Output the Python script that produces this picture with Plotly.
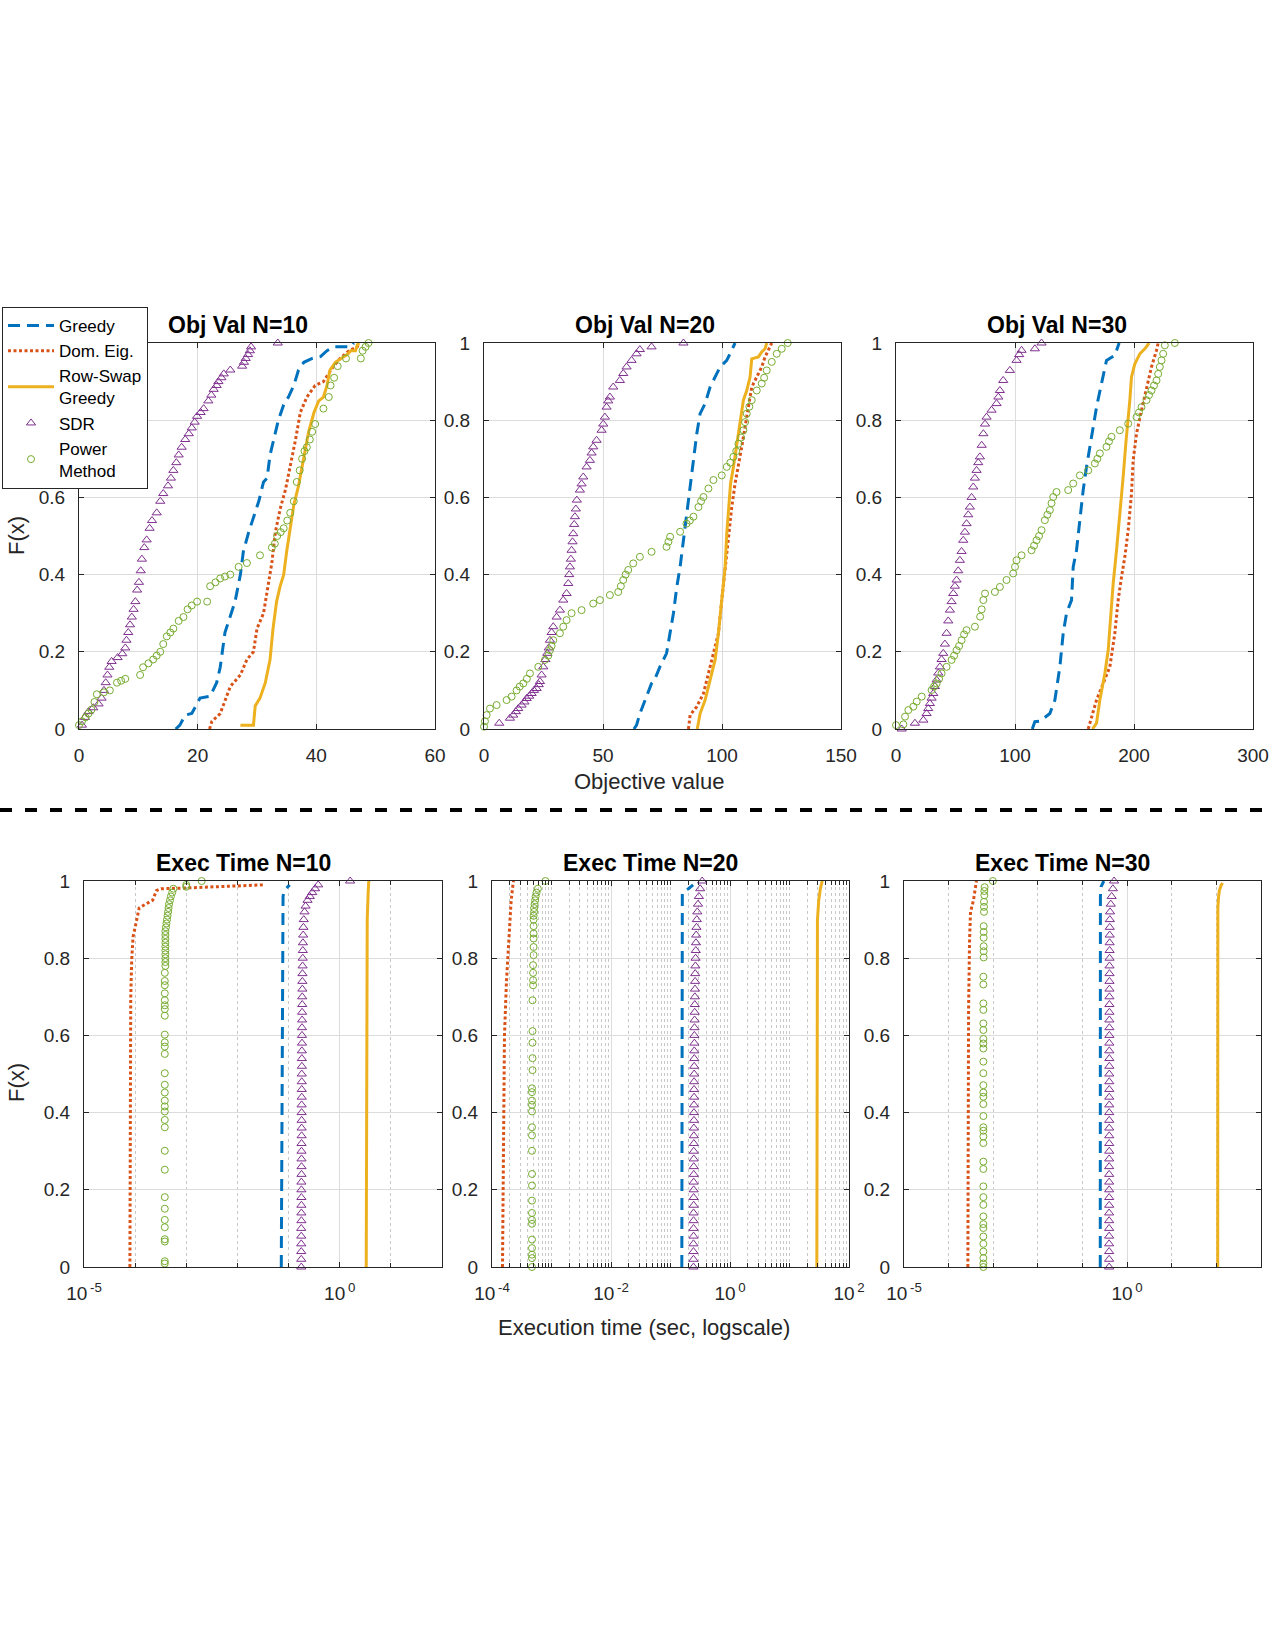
import plotly.graph_objects as go

W, H = 1275, 1650
BLUE = '#0072BD'; RED = '#D95319'; YEL = '#EDB120'; PUR = '#7E2F8E'; GRN = '#77AC30'
FONT = 'Liberation Sans, Arial, Helvetica, sans-serif'
TXT = '#262626'

SERIES_NAMES = ['Greedy', 'Dom. Eig.', 'Row-Swap<br>Greedy', 'SDR', 'Power<br>Method']
TITLES = ['Obj Val N=10', 'Obj Val N=20', 'Obj Val N=30', 'Exec Time N=10', 'Exec Time N=20', 'Exec Time N=30']

# ---------------- Objective value, N=10 : (x, F) ----------------
ov10_greedy = [(16.3,0),(17.0,0.01),(17.9,0.036),(19.0,0.04),(20.4,0.08),(22.1,0.085),(23.2,0.12),(23.8,0.16),(24.6,0.25),(25.5,0.29),(26.3,0.33),(27.2,0.40),(27.7,0.46),(28.6,0.51),(29.4,0.55),(30.3,0.59),(31.1,0.64),(31.7,0.65),(32.2,0.71),(33.1,0.77),(33.6,0.80),(34.5,0.84),(35.3,0.86),(36.2,0.89),(37.0,0.93),(37.9,0.95),(39.3,0.96),(40.7,0.965),(41.8,0.98),(42.9,0.99),(45.8,0.99),(46.3,1.0)]
ov10_domeig = [(22.0,0),(22.4,0.02),(23.8,0.04),(25.5,0.11),(27.2,0.14),(28.3,0.18),(29.4,0.20),(30.0,0.26),(31.1,0.30),(31.9,0.38),(32.5,0.43),(33.1,0.51),(33.9,0.57),(34.8,0.62),(35.6,0.68),(36.5,0.75),(37.3,0.82),(38.4,0.86),(39.8,0.89),(41.2,0.90),(42.9,0.94),(44.0,0.96),(45.5,0.98),(46.9,0.99),(47.2,1.0)]
ov10_rowswap = [(27.2,0.01),(29.4,0.01),(29.7,0.06),(30.5,0.08),(31.4,0.12),(32.2,0.18),(32.7,0.26),(33.3,0.33),(33.9,0.37),(34.5,0.40),(35.0,0.46),(35.6,0.52),(36.2,0.58),(37.0,0.63),(37.9,0.70),(38.7,0.77),(39.6,0.82),(40.4,0.85),(41.2,0.86),(41.8,0.89),(42.3,0.93),(43.2,0.95),(45.2,0.97),(45.8,0.98),(46.6,0.98),(46.9,0.995),(47.2,1.0)]
ov10_sdr = [(0.5,0.01),(1.0,0.03),(1.6,0.045),(2.4,0.055),(3.3,0.065),(3.8,0.08),(4.2,0.10),(4.5,0.12),(4.8,0.14),(5.1,0.16),(5.5,0.175),(6.5,0.185),(7.3,0.195),(7.8,0.21),(8.0,0.23),(8.3,0.25),(8.6,0.27),(8.9,0.29),(9.2,0.31),(9.5,0.33),(9.8,0.36),(10.1,0.38),(10.4,0.41),(10.6,0.44),(11.0,0.47),(11.4,0.49),(11.9,0.52),(12.3,0.54),(13.1,0.56),(13.7,0.59),(14.2,0.61),(15.0,0.63),(15.5,0.65),(15.9,0.67),(16.4,0.69),(16.8,0.71),(17.3,0.73),(17.9,0.75),(18.5,0.765),(19.0,0.78),(19.5,0.795),(19.9,0.81),(20.5,0.82),(21.0,0.83),(21.8,0.85),(22.3,0.865),(22.7,0.88),(23.2,0.89),(23.5,0.90),(24.0,0.91),(24.4,0.92),(25.5,0.93),(27.5,0.94),(27.8,0.95),(28.1,0.96),(28.5,0.97),(28.8,0.98),(29.0,0.99),(33.5,1.0)]
ov10_power = [(0.0,0.01),(0.5,0.02),(1.1,0.03),(1.6,0.04),(2.1,0.05),(2.6,0.07),(3.0,0.09),(4.2,0.095),(5.2,0.10),(6.4,0.12),(7.1,0.125),(7.8,0.13),(10.3,0.14),(10.8,0.16),(11.7,0.17),(12.5,0.18),(13.1,0.19),(13.7,0.20),(14.2,0.22),(14.8,0.24),(15.4,0.25),(15.9,0.26),(16.8,0.28),(17.6,0.29),(18.3,0.31),(19.0,0.32),(19.9,0.33),(21.6,0.33),(22.1,0.37),(23.0,0.38),(23.8,0.39),(24.6,0.395),(25.5,0.40),(26.9,0.42),(28.3,0.43),(30.5,0.45),(32.5,0.47),(33.0,0.48),(33.4,0.50),(34.0,0.51),(34.5,0.52),(35.1,0.54),(35.6,0.56),(36.2,0.59),(36.7,0.64),(37.2,0.67),(37.6,0.70),(38.0,0.72),(38.4,0.73),(38.9,0.75),(39.3,0.77),(39.8,0.79),(41.2,0.83),(42.1,0.86),(42.4,0.89),(43.0,0.91),(43.6,0.94),(45.0,0.96),(47.5,0.96),(47.8,0.98),(48.3,0.99),(48.8,1.0)]

# ---------------- Objective value, N=20 ----------------
ov20_greedy = [(63.0,0),(64.1,0.01),(65.5,0.04),(67.6,0.075),(70.4,0.118),(71.5,0.125),(73.9,0.161),(76.7,0.196),(78.2,0.248),(79.6,0.30),(81.0,0.368),(82.4,0.42),(83.8,0.489),(85.1,0.558),(86.6,0.627),(88.0,0.696),(89.4,0.765),(90.8,0.817),(92.9,0.843),(95.0,0.886),(97.1,0.912),(99.2,0.938),(102.0,0.955),(103.4,0.972),(105.5,1.0)]
ov20_domeig = [(85.9,0),(86.6,0.036),(89.4,0.058),(92.2,0.092),(94.3,0.144),(96.4,0.196),(98.5,0.248),(99.9,0.334),(101.3,0.42),(102.7,0.506),(104.1,0.575),(105.5,0.636),(106.9,0.679),(108.3,0.731),(109.7,0.783),(111.1,0.834),(112.5,0.886),(114.6,0.912),(116.7,0.938),(118.1,0.964),(120.2,0.99),(120.9,1.0)]
ov20_rowswap = [(89.6,0),(90.8,0.04),(92.9,0.075),(95.0,0.127),(97.1,0.179),(98.5,0.248),(99.9,0.334),(101.3,0.42),(102.0,0.506),(102.7,0.575),(103.6,0.636),(104.8,0.679),(106.2,0.739),(107.6,0.80),(109.0,0.852),(110.4,0.877),(111.8,0.912),(112.5,0.959),(115.3,0.964),(116.7,0.977),(118.1,0.985),(118.8,1.0)]
ov20_sdr = [(6.4,0.015),(10.9,0.028),(12.3,0.036),(13.4,0.045),(14.4,0.053),(15.8,0.062),(17.0,0.07),(17.9,0.079),(19.0,0.085),(20.0,0.092),(21.0,0.10),(22.1,0.105),(23.0,0.115),(23.5,0.123),(24.2,0.14),(24.9,0.161),(25.8,0.18),(26.6,0.196),(27.2,0.21),(27.7,0.23),(28.4,0.25),(29.1,0.265),(30.5,0.29),(31.9,0.308),(33.3,0.334),(34.7,0.351),(35.4,0.377),(35.8,0.40),(36.1,0.42),(36.5,0.44),(36.8,0.463),(37.2,0.485),(37.5,0.506),(37.9,0.53),(38.2,0.55),(38.6,0.57),(39.0,0.593),(40.3,0.619),(41.0,0.635),(41.7,0.653),(43.1,0.679),(44.5,0.696),(45.2,0.715),(45.9,0.731),(47.3,0.748),(49.4,0.774),(50.1,0.79),(50.8,0.808),(51.5,0.834),(52.2,0.85),(52.9,0.86),(54.3,0.886),(57.1,0.903),(58.5,0.921),(59.9,0.938),(62.0,0.955),(64.1,0.972),(65.5,0.983),(70.4,0.99),(83.8,1.0)]
ov20_power = [(0.0,0.006),(0.4,0.02),(1.1,0.036),(2.5,0.053),(5.3,0.062),(9.5,0.075),(11.6,0.084),(13.7,0.10),(15.0,0.11),(16.5,0.118),(18.0,0.13),(19.3,0.144),(22.8,0.161),(25.6,0.179),(27.0,0.19),(27.7,0.204),(28.4,0.215),(29.1,0.23),(31.9,0.248),(33.3,0.265),(34.7,0.282),(36.8,0.30),(41.0,0.308),(45.9,0.325),(48.7,0.334),(52.9,0.347),(56.4,0.355),(57.5,0.37),(58.5,0.386),(59.5,0.40),(60.6,0.412),(62.7,0.429),(65.5,0.446),(70.4,0.459),(76.7,0.472),(77.5,0.485),(78.2,0.498),(82.4,0.511),(85.1,0.532),(86.5,0.54),(88.0,0.55),(90.1,0.575),(91.2,0.59),(92.2,0.601),(94.3,0.623),(96.4,0.645),(99.9,0.657),(102.0,0.679),(103.5,0.69),(104.8,0.705),(106.0,0.72),(106.9,0.739),(108.0,0.755),(109.0,0.774),(109.7,0.795),(110.4,0.817),(111.5,0.835),(112.5,0.852),(114.6,0.877),(116.7,0.895),(117.7,0.91),(118.8,0.929),(120.9,0.951),(123.0,0.972),(125.1,0.985),(127.6,1.0)]

# ---------------- Objective value, N=30 ----------------
ov30_greedy = [(114.5,0),(116.7,0.019),(120.9,0.02),(129.3,0.04),(133.5,0.075),(137.7,0.161),(140.5,0.248),(143.3,0.30),(147.5,0.334),(148.9,0.42),(151.7,0.463),(154.5,0.55),(157.3,0.619),(160.1,0.679),(162.9,0.731),(165.7,0.783),(168.5,0.834),(172.7,0.895),(176.9,0.955),(183.9,0.968),(187.5,1.0)]
ov30_domeig = [(161.5,0),(168.5,0.075),(174.1,0.118),(179.7,0.161),(183.9,0.248),(186.7,0.334),(189.5,0.394),(192.3,0.446),(195.1,0.515),(197.9,0.61),(199.3,0.696),(202.1,0.765),(206.3,0.826),(210.5,0.886),(214.7,0.938),(218.9,0.981),(220.3,1.0)]
ov30_rowswap = [(165.1,0),(168.5,0.015),(171.3,0.075),(175.5,0.144),(178.3,0.204),(180.2,0.291),(182.5,0.377),(185.3,0.463),(188.1,0.55),(190.9,0.653),(193.1,0.739),(195.1,0.80),(196.5,0.852),(197.9,0.912),(200.7,0.946),(204.9,0.972),(209.1,0.985),(212.7,1.0)]
ov30_sdr = [(4.8,0.0),(15.9,0.015),(23.0,0.023),(25.7,0.04),(27.1,0.053),(28.5,0.066),(29.9,0.08),(31.3,0.092),(32.7,0.11),(34.1,0.127),(35.5,0.145),(36.9,0.161),(38.3,0.18),(39.7,0.196),(41.1,0.22),(42.5,0.248),(43.9,0.28),(45.3,0.308),(46.7,0.33),(48.1,0.351),(49.5,0.37),(50.9,0.386),(52.3,0.41),(53.7,0.437),(55.1,0.46),(56.5,0.489),(57.9,0.51),(59.3,0.532),(60.7,0.555),(62.1,0.575),(63.5,0.60),(64.9,0.627),(66.3,0.65),(67.7,0.67),(69.1,0.69),(70.5,0.705),(72.0,0.735),(73.4,0.765),(74.8,0.79),(76.1,0.808),(80.3,0.826),(84.5,0.843),(86.0,0.86),(87.3,0.877),(90.1,0.903),(95.7,0.929),(101.3,0.955),(103.5,0.97),(105.5,0.981),(116.7,0.985),(122.3,1.0)]
ov30_power = [(0.0,0.01),(6.2,0.012),(7.6,0.032),(10.4,0.049),(14.6,0.058),(17.4,0.071),(21.6,0.084),(29.9,0.101),(32.0,0.11),(34.1,0.118),(36.2,0.13),(38.3,0.144),(42.5,0.161),(46.7,0.179),(48.8,0.19),(50.9,0.204),(53.0,0.215),(55.1,0.23),(57.2,0.245),(59.3,0.256),(66.3,0.265),(70.7,0.291),(72.0,0.31),(73.4,0.334),(74.8,0.351),(83.1,0.355),(87.3,0.368),(92.9,0.386),(98.5,0.403),(100.0,0.42),(101.3,0.437),(105.5,0.45),(113.9,0.463),(116.0,0.475),(118.1,0.489),(120.2,0.50),(122.3,0.515),(125.1,0.541),(127.2,0.555),(129.3,0.567),(130.7,0.585),(132.1,0.601),(134.9,0.614),(144.7,0.619),(148.9,0.636),(154.5,0.657),(161.5,0.67),(167.1,0.688),(169.2,0.70),(171.3,0.714),(176.9,0.731),(179.0,0.745),(181.1,0.757),(188.1,0.774),(195.1,0.791),(202.1,0.808),(204.2,0.82),(206.3,0.834),(210.5,0.852),(212.6,0.865),(214.7,0.877),(216.8,0.89),(218.9,0.903),(220.3,0.92),(221.7,0.938),(223.1,0.955),(224.5,0.972),(225.9,0.994),(234.3,1.0)]

# ---------------- Execution time (sec), N=10 ----------------
et10_greedy = [(0.072,0),(0.074,0.5),(0.078,0.96),(0.082,0.975),(0.105,0.99)]
et10_domeig = [(7.9e-5,0),(8.0e-5,0.4),(8.2e-5,0.7),(8.6e-5,0.8),(9.1e-5,0.855),(1.0e-4,0.88),(1.2e-4,0.93),(1.6e-4,0.94),(2.2e-4,0.95),(2.6e-4,0.975),(3.2e-4,0.98),(1.0e-3,0.982),(3.2e-2,0.99)]
et10_rowswap = [(3.3,0),(3.35,0.5),(3.45,0.9),(3.6,0.97),(3.7,1.0)]
et10_sdr = [(0.177,0.00),(0.177,0.02),(0.177,0.04),(0.177,0.06),(0.177,0.08),(0.177,0.10),(0.178,0.12),(0.178,0.14),(0.178,0.16),(0.178,0.18),(0.178,0.20),(0.178,0.22),(0.179,0.24),(0.179,0.26),(0.179,0.28),(0.179,0.30),(0.179,0.32),(0.180,0.34),(0.180,0.36),(0.180,0.38),(0.180,0.40),(0.180,0.42),(0.181,0.44),(0.181,0.46),(0.181,0.48),(0.181,0.50),(0.182,0.52),(0.182,0.54),(0.182,0.56),(0.183,0.58),(0.183,0.60),(0.183,0.62),(0.184,0.64),(0.184,0.66),(0.185,0.68),(0.185,0.70),(0.186,0.72),(0.186,0.74),(0.187,0.76),(0.188,0.78),(0.189,0.80),(0.190,0.82),(0.191,0.84),(0.193,0.86),(0.195,0.88),(0.198,0.90),(0.205,0.92),(0.215,0.935),(0.235,0.95),(0.26,0.96),(0.29,0.97),(0.33,0.98),(0.38,0.99),(1.6,1.0)]
et10_power = [(3.8e-4,0.009),(3.8e-4,0.015),(3.8e-4,0.066),(3.8e-4,0.072),(3.8e-4,0.103),(3.8e-4,0.122),(3.8e-4,0.151),(3.8e-4,0.181),(3.8e-4,0.252),(3.8e-4,0.301),(3.8e-4,0.362),(3.8e-4,0.381),(3.8e-4,0.403),(3.8e-4,0.416),(3.8e-4,0.431),(3.8e-4,0.452),(3.8e-4,0.472),(3.8e-4,0.502),(3.8e-4,0.552),(3.8e-4,0.571),(3.8e-4,0.582),(3.8e-4,0.602),(3.8e-4,0.651),(3.8e-4,0.668),(3.8e-4,0.678),(3.8e-4,0.691),(3.8e-4,0.709),(3.8e-4,0.730),(3.8e-4,0.741),(3.8e-4,0.762),(3.9e-4,0.78),(3.9e-4,0.79),(3.9e-4,0.80),(3.9e-4,0.81),(3.9e-4,0.82),(3.9e-4,0.83),(3.9e-4,0.84),(3.9e-4,0.85),(3.9e-4,0.86),(3.9e-4,0.87),(4.0e-4,0.88),(4.1e-4,0.89),(4.2e-4,0.90),(4.3e-4,0.91),(4.4e-4,0.92),(4.5e-4,0.93),(4.6e-4,0.94),(4.8e-4,0.95),(5.0e-4,0.96),(5.3e-4,0.97),(5.6e-4,0.98),(1.0e-3,0.985),(1.0e-3,0.99),(2.0e-3,1.0)]

# ---------------- Execution time (sec), N=20 ----------------
et20_greedy = [(0.155,0),(0.156,0.5),(0.158,0.97),(0.175,0.975),(0.2,0.98),(0.24,0.99)]
et20_domeig = [(1.5e-4,0),(1.55e-4,0.2),(1.58e-4,0.4),(1.62e-4,0.6),(1.75e-4,0.74),(1.95e-4,0.85),(2.1e-4,0.95),(2.25e-4,0.99),(2.3e-4,1.0)]
et20_rowswap = [(28.8,0),(29.0,0.5),(29.5,0.9),(31.0,0.95),(33.0,0.98),(35.5,1.0)]
et20_sdr = [(0.243,0.00),(0.243,0.02),(0.243,0.04),(0.243,0.06),(0.244,0.08),(0.244,0.10),(0.244,0.12),(0.244,0.14),(0.245,0.16),(0.245,0.18),(0.245,0.20),(0.245,0.22),(0.246,0.24),(0.246,0.26),(0.246,0.28),(0.246,0.30),(0.247,0.32),(0.247,0.34),(0.247,0.36),(0.248,0.38),(0.248,0.40),(0.248,0.42),(0.249,0.44),(0.249,0.46),(0.249,0.48),(0.250,0.50),(0.250,0.52),(0.251,0.54),(0.251,0.56),(0.252,0.58),(0.252,0.60),(0.253,0.62),(0.254,0.64),(0.255,0.66),(0.256,0.68),(0.257,0.70),(0.258,0.72),(0.259,0.74),(0.260,0.76),(0.262,0.78),(0.264,0.80),(0.266,0.82),(0.268,0.84),(0.270,0.86),(0.273,0.88),(0.277,0.90),(0.282,0.92),(0.29,0.94),(0.30,0.96),(0.315,0.98),(0.34,1.0)]
et20_power = [(4.7e-4,0.0),(4.7e-4,0.023),(4.7e-4,0.032),(4.7e-4,0.049),(4.7e-4,0.071),(4.7e-4,0.112),(4.7e-4,0.122),(4.7e-4,0.140),(4.7e-4,0.172),(4.7e-4,0.211),(4.7e-4,0.241),(4.7e-4,0.301),(4.7e-4,0.341),(4.7e-4,0.362),(4.7e-4,0.403),(4.7e-4,0.420),(4.7e-4,0.431),(4.7e-4,0.453),(4.7e-4,0.463),(4.8e-4,0.510),(4.8e-4,0.541),(4.8e-4,0.581),(4.8e-4,0.611),(4.8e-4,0.691),(4.9e-4,0.730),(4.9e-4,0.743),(4.9e-4,0.762),(4.9e-4,0.782),(5.0e-4,0.808),(5.0e-4,0.829),(5.0e-4,0.851),(5.0e-4,0.864),(5.0e-4,0.883),(5.0e-4,0.90),(5.0e-4,0.91),(5.1e-4,0.92),(5.1e-4,0.93),(5.2e-4,0.94),(5.3e-4,0.95),(5.4e-4,0.96),(5.6e-4,0.97),(5.9e-4,0.98),(7.9e-4,1.0)]

# ---------------- Execution time (sec), N=30 ----------------
et30_greedy = [(0.25,0),(0.25,0.5),(0.252,0.96),(0.26,0.985),(0.30,1.0)]
et30_domeig = [(2.7e-4,0),(2.7e-4,0.42),(2.8e-4,0.67),(2.95e-4,0.85),(3.1e-4,0.92),(3.6e-4,0.95),(4.2e-4,1.0)]
et30_rowswap = [(107,0),(107,0.5),(108,0.93),(112,0.96),(117,0.976),(128,0.989),(138,0.995)]
et30_sdr = [(0.395,0.00),(0.395,0.02),(0.395,0.04),(0.395,0.06),(0.395,0.08),(0.395,0.10),(0.395,0.12),(0.395,0.14),(0.396,0.16),(0.396,0.18),(0.396,0.20),(0.396,0.22),(0.396,0.24),(0.396,0.26),(0.396,0.28),(0.397,0.30),(0.397,0.32),(0.397,0.34),(0.397,0.36),(0.397,0.38),(0.397,0.40),(0.398,0.42),(0.398,0.44),(0.398,0.46),(0.398,0.48),(0.398,0.50),(0.399,0.52),(0.399,0.54),(0.399,0.56),(0.399,0.58),(0.400,0.60),(0.400,0.62),(0.400,0.64),(0.401,0.66),(0.401,0.68),(0.401,0.70),(0.402,0.72),(0.402,0.74),(0.403,0.76),(0.403,0.78),(0.404,0.80),(0.405,0.82),(0.406,0.84),(0.407,0.86),(0.408,0.88),(0.410,0.90),(0.415,0.92),(0.43,0.94),(0.45,0.96),(0.48,0.98),(0.51,1.0)]
et30_power = [(6.0e-4,0.0),(6.0e-4,0.009),(6.0e-4,0.023),(6.0e-4,0.040),(6.0e-4,0.060),(6.0e-4,0.079),(6.0e-4,0.101),(6.0e-4,0.111),(6.0e-4,0.131),(6.0e-4,0.161),(6.0e-4,0.181),(6.0e-4,0.209),(6.0e-4,0.254),(6.0e-4,0.273),(6.0e-4,0.321),(6.0e-4,0.338),(6.0e-4,0.353),(6.0e-4,0.362),(6.0e-4,0.391),(6.0e-4,0.422),(6.0e-4,0.441),(6.0e-4,0.452),(6.0e-4,0.471),(6.0e-4,0.502),(6.0e-4,0.532),(6.0e-4,0.566),(6.0e-4,0.579),(6.0e-4,0.591),(6.0e-4,0.614),(6.0e-4,0.631),(6.0e-4,0.666),(6.0e-4,0.683),(6.0e-4,0.732),(6.0e-4,0.752),(6.1e-4,0.802),(6.1e-4,0.818),(6.1e-4,0.831),(6.1e-4,0.853),(6.1e-4,0.868),(6.1e-4,0.883),(6.2e-4,0.920),(6.2e-4,0.933),(6.2e-4,0.946),(6.3e-4,0.963),(6.3e-4,0.974),(6.4e-4,0.984),(9.8e-4,1.0)]

# ---------------- tick labels ----------------
F_ticks = [0, 0.2, 0.4, 0.6, 0.8, 1]
F_ticktext = ['0', '0.2', '0.4', '0.6', '0.8', '1']
ov_ticks = [[0, 20, 40, 60], [0, 50, 100, 150], [0, 100, 200, 300]]
ov_ranges = [[0, 60], [0, 150], [0, 300]]
et_ticks = [[1e-5, 1e0], [1e-4, 1e-2, 1e0, 1e2], [1e-5, 1e0]]
et_ticktext = [['10<sup>\u2009-5</sup>', '10<sup>\u20090</sup>'],
               ['10<sup>\u2009-4</sup>', '10<sup>\u2009-2</sup>', '10<sup>\u20090</sup>', '10<sup>\u20092</sup>'],
               ['10<sup>\u2009-5</sup>', '10<sup>\u20090</sup>']]
et_ranges = [[-5, 2], [-4, 2], [-5, 3]]
et_minor = [
    [1e-4, 1e-3, 1e-2, 1e-1, 1e1],
    [m * 10.0 ** d for d in range(-4, 2) for m in range(1, 10) if not (m == 1 and d % 2 == 0)],
    [1e-4, 1e-3, 1e-2, 1e-1, 1e1, 1e2],
]

panels = [
    [ov10_greedy, ov10_domeig, ov10_rowswap, ov10_sdr, ov10_power],
    [ov20_greedy, ov20_domeig, ov20_rowswap, ov20_sdr, ov20_power],
    [ov30_greedy, ov30_domeig, ov30_rowswap, ov30_sdr, ov30_power],
    [et10_greedy, et10_domeig, et10_rowswap, et10_sdr, et10_power],
    [et20_greedy, et20_domeig, et20_rowswap, et20_sdr, et20_power],
    [et30_greedy, et30_domeig, et30_rowswap, et30_sdr, et30_power],
]

# ---------------- layout geometry (pixels) ----------------
px_x = [(79, 435), (484, 841), (896, 1253), (84, 442), (492, 849), (904, 1261)]
px_y = [(343, 729)] * 3 + [(881, 1267)] * 3
title_pos = [(238, 325), (645, 325), (1057, 325), (243, 863), (650, 863), (1062, 863)]

def fx(p): return p / W
def fy(p): return 1 - p / H

fig = go.Figure()

styles = [
    dict(mode='lines', line=dict(color=BLUE, width=3, dash='12px,7px')),
    dict(mode='lines', line=dict(color=RED, width=3, dash='3px,2.5px')),
    dict(mode='lines', line=dict(color=YEL, width=3)),
    dict(mode='markers', marker=dict(symbol='triangle-up-open', size=8, color=PUR, line=dict(width=1, color=PUR))),
    dict(mode='markers', marker=dict(symbol='circle-open', size=7, color=GRN, line=dict(width=1, color=GRN))),
]

for i, series in enumerate(panels):
    ax = '' if i == 0 else str(i + 1)
    for j, pairs in enumerate(series):
        fig.add_trace(go.Scatter(
            x=[p[0] for p in pairs], y=[p[1] for p in pairs],
            name=SERIES_NAMES[j], showlegend=(i == 0), cliponaxis=False,
            xaxis='x' + ax, yaxis='y' + ax, hoverinfo='skip', **styles[j]))

axis_common = dict(showline=True, linecolor=TXT, linewidth=1, mirror='ticks', ticks='inside',
                   ticklen=5, tickcolor=TXT, tickwidth=1, showgrid=True, gridcolor='#dcdcdc',
                   gridwidth=1, zeroline=False, ticklabelstandoff=9, automargin=False,
                   tickfont=dict(family=FONT, size=19, color=TXT))

layout = dict(width=W, height=H, autosize=False,
              margin=dict(l=0, r=0, t=0, b=0, pad=0, autoexpand=False),
              paper_bgcolor='white', plot_bgcolor='white', font=dict(family=FONT, color=TXT))

for i in range(6):
    ax = '' if i == 0 else str(i + 1)
    xd = [fx(px_x[i][0]), fx(px_x[i][1])]
    yd = [fy(px_y[i][1]), fy(px_y[i][0])]
    xa = dict(axis_common, domain=xd, anchor='y' + ax)
    if i < 3:
        xa.update(range=ov_ranges[i], tickvals=ov_ticks[i], ticktext=[str(v) for v in ov_ticks[i]])
    else:
        k = i - 3
        xa.update(type='log', range=et_ranges[k], tickmode='array', tickvals=et_ticks[k],
                  ticktext=et_ticktext[k],
                  minor=dict(tickmode='array', tickvals=et_minor[k], ticks='inside', ticklen=4,
                             tickcolor=TXT, showgrid=True, gridcolor='#c8c8c8', griddash='dot', gridwidth=1))
    ya = dict(axis_common, domain=yd, anchor='x' + ax, range=[0, 1], tickvals=F_ticks, ticktext=F_ticktext)
    layout['xaxis' + ax] = xa
    layout['yaxis' + ax] = ya

annotations = []
for i, (tx, ty) in enumerate(title_pos):
    annotations.append(dict(text='<b>%s</b>' % TITLES[i], x=fx(tx), y=fy(ty), xref='paper', yref='paper',
                            showarrow=False, xanchor='center', yanchor='middle',
                            font=dict(family=FONT, size=23, color='black')))
annotations += [
    dict(text='Objective value', x=fx(649), y=fy(782), xref='paper', yref='paper', showarrow=False,
         xanchor='center', yanchor='middle', font=dict(family=FONT, size=22, color=TXT)),
    dict(text='Execution time (sec, logscale)', x=fx(644), y=fy(1327), xref='paper', yref='paper',
         showarrow=False, xanchor='center', yanchor='middle', font=dict(family=FONT, size=22, color=TXT)),
    dict(text='F(x)', x=fx(16), y=fy(536), xref='paper', yref='paper', showarrow=False, textangle=-90,
         xanchor='center', yanchor='middle', font=dict(family=FONT, size=22, color=TXT)),
    dict(text='F(x)', x=fx(16), y=fy(1083), xref='paper', yref='paper', showarrow=False, textangle=-90,
         xanchor='center', yanchor='middle', font=dict(family=FONT, size=22, color=TXT)),
]
layout['annotations'] = annotations
layout['shapes'] = [dict(type='line', xref='paper', yref='paper', x0=0, x1=fx(1268), y0=fy(810), y1=fy(810),
                         line=dict(color='black', width=4, dash='12px,13px'))]
layout['legend'] = dict(x=fx(2), y=fy(307), xanchor='left', yanchor='top', bgcolor='white',
                        bordercolor=TXT, borderwidth=1, font=dict(family=FONT, size=17, color='black'),
                        tracegroupgap=0, itemwidth=46)

fig.update_layout(**layout)
fig.write_html('out.html')
